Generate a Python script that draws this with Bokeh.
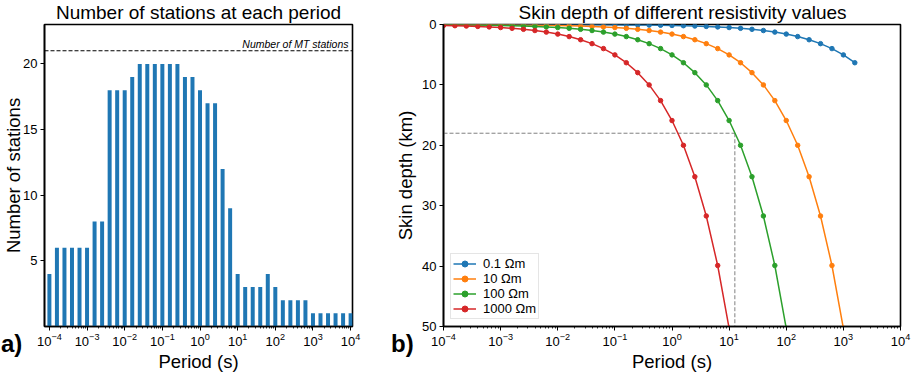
from bokeh.plotting import figure
from bokeh.layouts import row
from bokeh.models import Range1d, FixedTicker, Label, Span, Div
from bokeh.embed import file_html
from bokeh.resources import INLINE

FONT = "Liberation Sans"

# ---------------- data ----------------
periods = [
    1.0e-4, 1.585e-4, 2.512e-4, 3.981e-4, 6.310e-4,
    1.0e-3, 1.585e-3, 2.512e-3, 3.981e-3, 6.310e-3,
    1.0e-2, 1.585e-2, 2.512e-2, 3.981e-2, 6.310e-2,
    1.0e-1, 1.585e-1, 2.512e-1, 3.981e-1, 6.310e-1,
    1.0, 1.585, 2.512, 3.981, 6.310,
    10.0, 15.85, 25.12, 39.81, 63.10,
    100.0, 158.5, 251.2, 398.1, 631.0,
    1000.0, 1585.0, 2512.0, 3981.0, 6310.0,
    10000.0,
]
station_counts = [4, 6, 6, 6, 6, 6, 8, 8, 18, 18, 18, 19, 20, 20, 20, 20, 20, 20, 19, 19,
                  18, 17, 17, 12, 9, 4, 3, 3, 3, 4, 3, 2, 2, 2, 2, 1, 1, 1, 1, 1, 1]
mt_station_total = 21

skin_periods = periods[:37]
depth_rho_01 = [0.0016, 0.0020, 0.0025, 0.0032, 0.0040, 0.0050, 0.0063, 0.0080, 0.0100, 0.0126,
                0.0159, 0.020, 0.025, 0.032, 0.040, 0.050, 0.063, 0.080, 0.100, 0.126,
                0.159, 0.200, 0.252, 0.317, 0.399, 0.503, 0.633, 0.797, 1.00, 1.26,
                1.59, 2.00, 2.52, 3.17, 3.99, 5.03, 6.33]
depth_rho_10 = [0.016, 0.020, 0.025, 0.032, 0.040, 0.050, 0.063, 0.080, 0.100, 0.126,
                0.159, 0.200, 0.252, 0.317, 0.399, 0.503, 0.633, 0.797, 1.00, 1.26,
                1.59, 2.00, 2.52, 3.17, 3.99, 5.03, 6.33, 7.97, 10.0, 12.6,
                15.9, 20.0, 25.2, 31.7, 39.9, 50.3]
depth_rho_100 = [0.050, 0.063, 0.080, 0.100, 0.126, 0.159, 0.200, 0.252, 0.317, 0.399,
                 0.503, 0.633, 0.797, 1.00, 1.26, 1.59, 2.00, 2.52, 3.17, 3.99,
                 5.03, 6.33, 7.97, 10.0, 12.6, 15.9, 20.0, 25.2, 31.7, 39.9, 50.3]
depth_rho_1000 = [0.159, 0.200, 0.252, 0.317, 0.399, 0.503, 0.633, 0.797, 1.00, 1.26,
                  1.59, 2.00, 2.52, 3.17, 3.99, 5.03, 6.33, 7.97, 10.0, 12.6,
                  15.9, 20.0, 25.2, 31.7, 39.9, 50.3]
series_labels = ["0.1 \u03a9m", "10 \u03a9m", "100 \u03a9m", "1000 \u03a9m"]
series_colors = ["#1f77b4", "#ff7f0e", "#2ca02c", "#d62728"]
guide_period = 12.6
guide_depth = 18.0

x_major_ticks = [1e-4, 1e-3, 1e-2, 1e-1, 1e0, 1e1, 1e2, 1e3, 1e4]
x_minor_ticks = [m * 10.0 ** e for e in range(-4, 4) for m in range(2, 10)]
count_ticks = [5, 10, 15, 20]
depth_ticks = [0, 10, 20, 30, 40, 50]


def style_axes(p, title, xlabel, ylabel):
    p.xgrid.visible = False
    p.ygrid.visible = False
    p.outline_line_color = "black"
    p.outline_line_width = 1.6
    p.outline_line_alpha = 1.0
    p.background_fill_color = "white"
    p.border_fill_color = "white"
    p.title.text = title
    p.title.align = "center"
    p.title.vertical_align = "top"
    p.title.standoff = 0
    p.title.text_font = FONT
    p.title.text_font_size = "19px"
    p.title.text_font_style = "normal"
    p.title.text_color = "black"
    for ax in (p.xaxis[0], p.yaxis[0]):
        ax.major_label_text_font = FONT
        ax.major_label_text_font_size = "13px"
        ax.major_label_text_color = "black"
        ax.axis_line_color = "black"
        ax.axis_line_width = 1.6
        ax.major_tick_line_color = "black"
        ax.major_tick_line_width = 1
        ax.minor_tick_line_color = "black"
        ax.minor_tick_line_width = 0.8
        ax.major_tick_in = 0
        ax.major_tick_out = 4
        ax.minor_tick_in = 0
        ax.minor_tick_out = 2
        ax.major_label_standoff = 3
        ax.axis_label_text_font = FONT
        ax.axis_label_text_font_size = "18.5px"
        ax.axis_label_text_font_style = "normal"
        ax.axis_label_text_color = "black"
    p.xaxis[0].axis_label = xlabel
    p.yaxis[0].axis_label = ylabel
    p.xaxis[0].major_label_standoff = 2
    p.xaxis[0].axis_label_standoff = 2
    p.yaxis[0].minor_tick_line_color = None


# ---------------- left panel ----------------
p1 = figure(width=380, height=374, x_axis_type="log",
            x_range=Range1d(10 ** -4.13, 10 ** 4.05), y_range=Range1d(0, 23),
            output_backend="svg", toolbar_location=None,
            min_border_left=43, min_border_right=28, min_border_top=24, min_border_bottom=48)
style_axes(p1, "Number of stations at each period", "Period (s)", "Number of stations")
p1.yaxis[0].axis_label_standoff = -4
p1.xaxis[0].ticker = FixedTicker(ticks=x_major_ticks, minor_ticks=x_minor_ticks)
p1.yaxis[0].ticker = FixedTicker(ticks=count_ticks)

bar_half = 10 ** 0.053
p1.quad(left=[t / bar_half for t in periods], right=[t * bar_half for t in periods],
        bottom=0, top=station_counts, fill_color="#1f77b4", line_color=None)
p1.add_layout(Span(location=mt_station_total, dimension="width", line_color="black",
                   line_width=1, line_dash="4 2"))
p1.add_layout(Label(x=304, y=mt_station_total, x_units="screen", y_units="data",
                    y_offset=7, text="Number of MT stations", text_align="right",
                    text_baseline="alphabetic", text_font=FONT, text_font_size="10.5px",
                    text_font_style="italic", text_color="black"))

# ---------------- right panel ----------------
p2 = figure(width=535, height=374, x_axis_type="log",
            x_range=Range1d(1e-4, 1e4), y_range=Range1d(50, 0),
            output_backend="svg", toolbar_location=None,
            min_border_left=63, min_border_right=15, min_border_top=23, min_border_bottom=47)
style_axes(p2, "Skin depth of different resistivity values", "Period (s)", "Skin depth (km)")
p2.title.align = "left"
p2.title.offset = 75
p2.yaxis[0].axis_label_standoff = 3
p2.xaxis[0].ticker = FixedTicker(ticks=x_major_ticks, minor_ticks=x_minor_ticks)
p2.yaxis[0].ticker = FixedTicker(ticks=depth_ticks)

guide_dash = dict(line_color="#808080", line_width=1, line_dash="4 2")
p2.line([p2.x_range.start, guide_period], [guide_depth, guide_depth], **guide_dash)
p2.line([guide_period, guide_period], [guide_depth, p2.y_range.start], **guide_dash)

for depths, color, label in zip([depth_rho_01, depth_rho_10, depth_rho_100, depth_rho_1000],
                                series_colors, series_labels):
    xs = skin_periods[:len(depths)]
    p2.line(xs, depths, line_color=color, line_width=1.5, legend_label=label)
    p2.scatter(xs, depths, size=4.5, fill_color=color, line_color=color, legend_label=label)

lg = p2.legend[0]
lg.location = "bottom_left"
lg.margin = 7
lg.padding = 2
lg.spacing = 0
lg.glyph_width = 23
lg.glyph_height = 15
lg.label_height = 15
lg.label_standoff = 7
lg.label_text_font = FONT
lg.label_text_font_size = "13px"
lg.label_text_color = "black"
lg.border_line_color = "#cccccc"
lg.border_line_width = 1
lg.background_fill_alpha = 0.85

# panel letters
letter_style = {"position": "absolute", "font-family": FONT, "font-size": "24px",
                "font-weight": "bold", "line-height": "24px", "color": "black"}
div_a = Div(text="a)", width=30, height=26, styles=dict(letter_style, left="-4px", top="327px"))
div_b = Div(text="b)", width=30, height=26, styles=dict(letter_style, left="386px", top="327px"))

layout = row(p1, p2, div_a, div_b)
open("out.html", "w").write(file_html(layout, INLINE))
